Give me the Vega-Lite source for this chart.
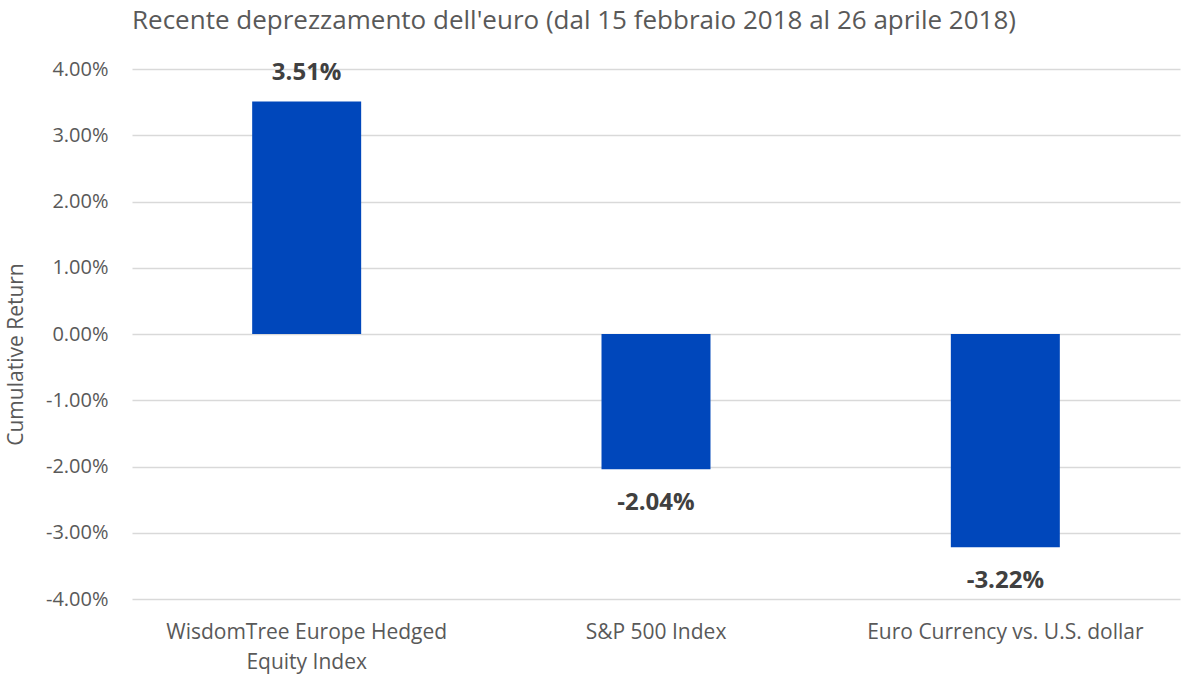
{
  "$schema": "https://vega.github.io/schema/vega-lite/v6.json",
  "width": 1048,
  "height": 530,
  "autosize": {"type": "none"},
  "padding": {"left": 132, "top": 69, "right": 20, "bottom": 88},
  "background": "white",
  "title": {
    "text": "Recente deprezzamento dell'euro (dal 15 febbraio 2018 al 26 aprile 2018)",
    "anchor": "start",
    "frame": "group",
    "offset": 25,
    "font": "Open Sans",
    "fontSize": 26,
    "fontWeight": "normal",
    "color": "#595959"
  },
  "data": {
    "values": [
      {"label": "WisdomTree Europe Hedged Equity Index", "value": 0.0351},
      {"label": "S&P 500 Index", "value": -0.0204},
      {"label": "Euro Currency vs. U.S. dollar", "value": -0.0322}
    ]
  },
  "config": {
    "view": {"stroke": null},
    "font": "Open Sans",
    "locale": {
      "number": {
        "decimal": ".",
        "thousands": ",",
        "grouping": [3],
        "currency": ["$", ""],
        "minus": "-"
      }
    }
  },
  "encoding": {
    "x": {
      "field": "label",
      "type": "nominal",
      "sort": null,
      "scale": {"paddingInner": 0.688, "paddingOuter": 0.344},
      "axis": {
        "title": null,
        "labelAngle": 0,
        "domain": false,
        "ticks": false,
        "labelFont": "Open Sans",
        "labelFontSize": 21,
        "labelColor": "#595959",
        "labelPadding": 22,
        "labelLineHeight": 30,
        "labelLimit": 400,
        "labelExpr": "datum.label == 'WisdomTree Europe Hedged Equity Index' ? ['WisdomTree Europe Hedged', 'Equity Index'] : datum.label"
      }
    },
    "y": {
      "field": "value",
      "type": "quantitative",
      "scale": {"domain": [-0.04, 0.04], "nice": false},
      "axis": {
        "title": "Cumulative Return",
        "titleFont": "Open Sans",
        "titleFontSize": 21,
        "titleFontWeight": "normal",
        "titleColor": "#595959",
        "titleX": -116,
        "titleY": 285,
        "titleAngle": -90,
        "titleAlign": "center",
        "titleBaseline": "middle",
        "format": ".2%",
        "values": [-0.04, -0.03, -0.02, -0.01, 0, 0.01, 0.02, 0.03, 0.04],
        "domain": false,
        "ticks": false,
        "labelFont": "Open Sans",
        "labelFontSize": 20,
        "labelColor": "#595959",
        "labelPadding": 24,
        "gridColor": "#d9d9d9",
        "gridWidth": 1.5
      }
    }
  },
  "layer": [
    {
      "mark": {"type": "bar", "color": "#0047BB"}
    },
    {
      "transform": [{"filter": "datum.value >= 0"}],
      "mark": {"type": "text", "baseline": "alphabetic", "dy": -21, "font": "Open Sans", "fontSize": 24, "fontWeight": "bold", "color": "#404040"},
      "encoding": {"text": {"field": "value", "type": "quantitative", "format": ".2%"}}
    },
    {
      "transform": [{"filter": "datum.value < 0"}],
      "mark": {"type": "text", "baseline": "alphabetic", "dy": 41, "font": "Open Sans", "fontSize": 24, "fontWeight": "bold", "color": "#404040"},
      "encoding": {"text": {"field": "value", "type": "quantitative", "format": ".2%"}}
    }
  ]
}
